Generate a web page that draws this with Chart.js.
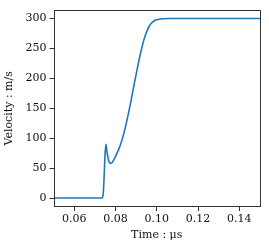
<!DOCTYPE html>
<html>
<head>
<meta charset="utf-8">
<script src="https://cdn.jsdelivr.net/npm/chart.js@4/dist/chart.umd.min.js"></script>
<style>
html,body{margin:0;padding:0;background:#fff;}
#wrap{width:269px;height:242px;position:relative;}
</style>
</head>
<body>
<div id="wrap"><canvas id="c" width="269" height="242"></canvas></div>
<script>
const timeUs = [0.05, 0.06, 0.07, 0.0735, 0.0740, 0.0745, 0.0750, 0.0754, 0.0758, 0.0764, 0.0770, 0.0777, 0.0785, 0.0795, 0.0805, 0.0815, 0.0825, 0.0835, 0.0845, 0.0855, 0.0865, 0.0875, 0.0885, 0.0895, 0.0905, 0.0915, 0.0925, 0.0935, 0.0945, 0.0955, 0.0965, 0.0975, 0.0985, 0.0995, 0.101, 0.103, 0.106, 0.11, 0.12, 0.13, 0.14, 0.15];
const velocity = [0, 0, 0, 0, 4, 35, 75, 90, 80, 67, 60, 58, 60, 66, 73, 81, 90, 101, 114, 129, 145, 162, 180, 198, 215, 232, 247, 261, 272, 281, 288, 292.5, 295.5, 297.5, 299, 299.8, 300, 300, 300, 300, 300, 300];
const xTicks = [0.06, 0.08, 0.10, 0.12, 0.14];
const yTicks = [0, 50, 100, 150, 200, 250, 300];

const font = {family: "'DejaVu Serif', serif", size: 11};
const frame = {
  id: 'frame',
  afterDatasetsDraw(chart) {
    const a = chart.chartArea, ctx = chart.ctx;
    ctx.save();
    ctx.strokeStyle = '#333';
    ctx.lineWidth = 1;
    ctx.strokeRect(Math.round(a.left) + 0.5, Math.round(a.top) + 0.5, Math.round(a.right - a.left) - 1, Math.round(a.bottom - a.top) - 1);
    ctx.restore();
  }
};

new Chart(document.getElementById('c'), {
  type: 'scatter',
  data: {
    datasets: [{
      data: timeUs.map((t, i) => ({x: t, y: velocity[i]})),
      showLine: true,
      borderColor: '#1f77b4',
      borderWidth: 1.6,
      pointRadius: 0,
      cubicInterpolationMode: 'monotone',
      fill: false
    }]
  },
  options: {
    responsive: false,
    animation: false,
    devicePixelRatio: 1,
    layout: {padding: {left: 0, right: 9, top: 7, bottom: 0}},
    plugins: {legend: {display: false}, tooltip: {enabled: false}},
    scales: {
      x: {
        type: 'linear', min: 0.05, max: 0.15,
        afterBuildTicks: s => { s.ticks = xTicks.map(v => ({value: v})); },
        afterFit: s => { s.height = 35; },
        ticks: {color: '#111', font, padding: 2, maxRotation: 0, callback: v => v.toFixed(2)},
        grid: {drawOnChartArea: false, drawTicks: true, tickLength: 4, color: '#333'},
        border: {display: false},
        title: {display: true, text: 'Time : μs', color: '#111', font, padding: {top: 0, bottom: 0}}
      },
      y: {
        type: 'linear', min: -15, max: 315,
        afterBuildTicks: s => { s.ticks = yTicks.map(v => ({value: v})); },
        afterFit: s => { s.width = 53.5; },
        ticks: {color: '#111', font, padding: 3},
        grid: {drawOnChartArea: false, drawTicks: true, tickLength: 4, color: '#333'},
        border: {display: false},
        title: {display: true, text: 'Velocity : m/s', color: '#111', font, padding: {top: 3, bottom: 0}}
      }
    }
  },
  plugins: [frame]
});
</script>
</body>
</html>
